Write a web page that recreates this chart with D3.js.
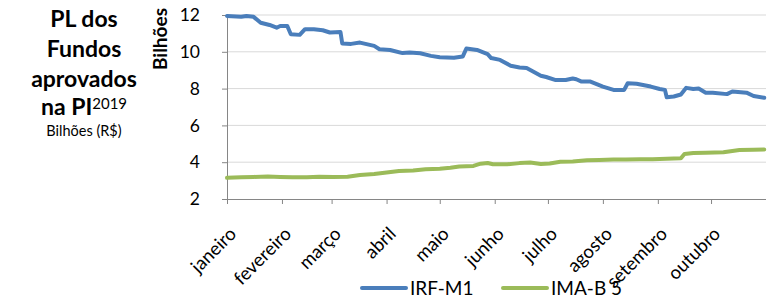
<!DOCTYPE html>
<html>
<head>
<meta charset="utf-8">
<script src="https://cdn.jsdelivr.net/npm/d3@7"></script>
<style>
  html, body { margin: 0; padding: 0; background: #fff; }
  svg { display: block; font-family: Lato, "Open Sans", sans-serif; }
</style>
</head>
<body>
<svg id="chart" width="772" height="295"></svg>
<script>
// ---- Data ----
const monthLabels = ["janeiro","fevereiro","março","abril","maio","junho","julho","agosto","setembro","outubro"];
const yTicks = [2, 4, 6, 8, 10, 12];
const seriesNames = ["IRF-M1", "IMA-B 5"];

const irfDates = ["2019-01-01","2019-01-09","2019-01-12","2019-01-16","2019-01-20","2019-01-25","2019-01-29","2019-01-31",
  "2019-02-04","2019-02-06","2019-02-11","2019-02-14","2019-02-19","2019-02-24","2019-02-28","2019-03-06","2019-03-07",
  "2019-03-12","2019-03-17","2019-03-25","2019-03-28","2019-04-03","2019-04-10","2019-04-14","2019-04-20","2019-04-26",
  "2019-05-01","2019-05-09","2019-05-14","2019-05-16","2019-05-22","2019-05-28","2019-05-30","2019-06-04","2019-06-10",
  "2019-06-15","2019-06-19","2019-06-27","2019-06-30","2019-07-05","2019-07-11","2019-07-15","2019-07-17","2019-07-20",
  "2019-07-25","2019-08-01","2019-08-07","2019-08-13","2019-08-15","2019-08-20","2019-08-28","2019-09-02","2019-09-05",
  "2019-09-06","2019-09-10","2019-09-14","2019-09-17","2019-09-21","2019-09-24","2019-09-28","2019-10-02","2019-10-10",
  "2019-10-13","2019-10-21","2019-10-25","2019-10-31"];
const irfValues = [11.95,11.9,11.95,11.9,11.58,11.46,11.31,11.4,
  11.4,10.95,10.92,11.23,11.23,11.17,11.05,11.08,10.45,
  10.43,10.5,10.32,10.14,10.1,9.93,9.96,9.92,9.78,
  9.7,9.68,9.75,10.18,10.1,9.87,9.66,9.56,9.24,
  9.15,9.12,8.7,8.63,8.47,8.47,8.55,8.51,8.38,
  8.38,8.11,7.93,7.93,8.29,8.26,8.11,7.98,7.93,
  7.53,7.57,7.68,8.04,7.98,8.0,7.78,7.78,7.7,
  7.84,7.78,7.6,7.5];

const imaDates = ["2019-01-01","2019-01-09","2019-01-16","2019-01-24","2019-01-31","2019-02-07","2019-02-15","2019-02-22",
  "2019-03-02","2019-03-10","2019-03-17","2019-03-25","2019-04-01","2019-04-08","2019-04-16","2019-04-23","2019-05-01",
  "2019-05-07","2019-05-12","2019-05-20","2019-05-24","2019-05-28","2019-05-31","2019-06-08","2019-06-15","2019-06-21",
  "2019-06-27","2019-07-02","2019-07-08","2019-07-15","2019-07-23","2019-07-30","2019-08-07","2019-08-14","2019-08-22",
  "2019-08-29","2019-09-06","2019-09-14","2019-09-16","2019-09-21","2019-09-28","2019-10-08","2019-10-12","2019-10-17",
  "2019-10-25","2019-10-31"];
const imaValues = [3.15,3.18,3.2,3.22,3.2,3.18,3.18,3.21,
  3.2,3.21,3.3,3.36,3.44,3.52,3.55,3.62,3.65,
  3.7,3.77,3.8,3.92,3.96,3.89,3.89,3.95,3.98,
  3.9,3.93,4.02,4.04,4.1,4.12,4.14,4.15,4.16,
  4.16,4.19,4.21,4.45,4.5,4.52,4.54,4.6,4.66,
  4.68,4.69];

// ---- Chart ----
const svg = d3.select("#chart");
const parse = d3.utcParse("%Y-%m-%d");
const plotLeft = 227, plotRight = 766, plotTop = 15, plotBottom = 199;

const x = d3.scaleUtc().domain([parse("2019-01-01"), parse("2019-11-01")]).range([plotLeft, plotRight]);
const y = d3.scaleLinear().domain([2, 12]).range([plotBottom, plotTop]);

// gridlines
svg.append("g").selectAll("line").data(yTicks.filter(t => t !== 2)).join("line")
  .attr("x1", plotLeft).attr("x2", plotRight)
  .attr("y1", d => y(d)).attr("y2", d => y(d))
  .attr("stroke", "#d9d9d9").attr("stroke-width", 1);

// y axis
const yAxis = d3.axisLeft(y).tickValues(yTicks).tickSize(5).tickPadding(22).tickFormat(d3.format("d"));
const yg = svg.append("g").attr("transform", `translate(${plotLeft},0)`).call(yAxis);
yg.select(".domain").attr("stroke", "#868686");
yg.selectAll(".tick line").attr("stroke", "#868686");
yg.selectAll(".tick text").attr("font-size", 17.5).attr("fill", "#000").attr("font-family", "Lato");

// x axis
const monthStarts = d3.utcMonths(parse("2019-01-01"), parse("2019-11-01"));
const xAxis = d3.axisBottom(x).tickValues(monthStarts).tickSize(5).tickFormat((d, i) => monthLabels[i]);
const xg = svg.append("g").attr("transform", `translate(0,${plotBottom})`).call(xAxis);
xg.select(".domain").attr("stroke", "#868686").attr("d", `M${plotLeft},0.5H${plotRight}`);
xg.selectAll(".tick line").attr("stroke", "#868686").attr("y1", 0).attr("y2", 5);
xg.selectAll(".tick text")
  .attr("font-size", 18.5).attr("fill", "#000").attr("font-family", "Lato")
  .attr("text-anchor", "end")
  .attr("y", 0).attr("dy", 0)
  .attr("transform", "translate(10,36) rotate(-45)");

// lines
const line = d3.line().x(d => x(d[0])).y(d => y(d[1])).curve(d3.curveLinear);
const irf = irfDates.map((d, i) => [parse(d), irfValues[i]]);
const ima = imaDates.map((d, i) => [parse(d), imaValues[i]]);
svg.append("path").datum(irf).attr("d", line).attr("fill", "none")
  .attr("stroke", "#4a7ebb").attr("stroke-width", 4).attr("stroke-linejoin", "round").attr("stroke-linecap", "round");
svg.append("path").datum(ima).attr("d", line).attr("fill", "none")
  .attr("stroke", "#9bbb59").attr("stroke-width", 4).attr("stroke-linejoin", "round").attr("stroke-linecap", "round");

// y axis title
svg.append("text").attr("transform", "translate(167,39) rotate(-90)")
  .attr("text-anchor", "middle").attr("font-weight", "bold").attr("font-size", 19).text("Bilhões");

// left title block
const title = svg.append("g").attr("font-weight", "bold").attr("font-size", 23).attr("text-anchor", "middle");
title.append("text").attr("x", 84).attr("y", 27).text("PL dos");
title.append("text").attr("x", 84).attr("y", 57).text("Fundos");
title.append("text").attr("x", 84).attr("y", 87).text("aprovados");
const t4 = title.append("text").attr("x", 84).attr("y", 115);
t4.append("tspan").text("na PI");
t4.append("tspan").attr("font-weight", "normal").attr("font-size", 15).attr("dy", -6).text("2019");
svg.append("text").attr("x", 84).attr("y", 136).attr("text-anchor", "middle").attr("font-size", 14.5).text("Bilhões (R$)");

// legend
const legend = svg.append("g");
const legItems = [{name: seriesNames[0], color: "#4a7ebb", x0: 362}, {name: seriesNames[1], color: "#9bbb59", x0: 503}];
legItems.forEach(it => {
  legend.append("line").attr("x1", it.x0).attr("x2", it.x0 + 44).attr("y1", 288).attr("y2", 288)
    .attr("stroke", it.color).attr("stroke-width", 4).attr("stroke-linecap", "round");
  legend.append("text").attr("x", it.x0 + 48).attr("y", 295).attr("font-size", 19).text(it.name);
});
</script>
</body>
</html>
